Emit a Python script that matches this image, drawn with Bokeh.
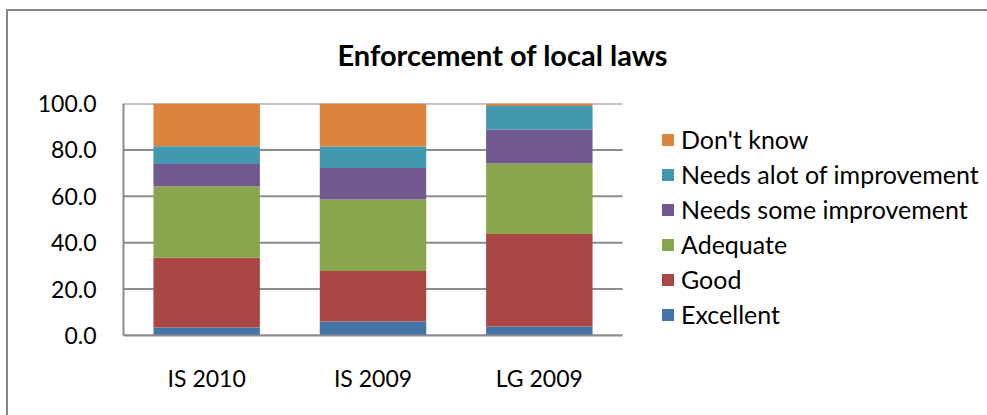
from bokeh.plotting import figure
from bokeh.models import (Range1d, Legend, LegendItem, NumeralTickFormatter, FixedTicker)
from bokeh.embed import file_html
from bokeh.resources import INLINE

categories = ["IS 2010", "IS 2009", "LG 2009"]
series = ["Excellent", "Good", "Adequate", "Needs some improvement",
          "Needs alot of improvement", "Don't know"]
excellent = [3.4, 6.0, 3.9]
good = [30.1, 21.8, 39.9]
adequate = [30.8, 30.8, 30.3]
needs_some = [9.6, 13.6, 14.7]
needs_alot = [7.7, 9.3, 10.1]
dont_know = [18.4, 18.5, 1.1]
colors = ["#4572A7", "#AA4643", "#89A54E", "#71588F", "#4198AF", "#DB843D"]
y_ticks = [0, 20, 40, 60, 80, 100]

FONT = "Lato"
GRID = "#8c8c8c"

n = len(categories)
xpos = [i + 0.5 for i in range(n)]
data = {"x": xpos, "Excellent": excellent, "Good": good, "Adequate": adequate,
        "Needs some improvement": needs_some, "Needs alot of improvement": needs_alot,
        "Don't know": dont_know}

# frame spans from x=123 to the right edge; categories occupy the first 499 px
W = 990
x_end = n * (W - 123) / 499.0
p = figure(x_range=Range1d(0, x_end), y_range=Range1d(0, 100),
           width=W, height=415, output_backend="svg", toolbar_location=None,
           min_border_left=123, min_border_right=0, min_border_top=103, min_border_bottom=80)
p.border_fill_alpha = 0
p.background_fill_color = "white"
p.outline_line_color = None

# outer chart border: only its top and left edges fall inside the window
p.styles = {
    "background": ("linear-gradient(#868686, #868686) 6px 9px / 984px 2px no-repeat, "
                   "linear-gradient(#868686, #868686) 6px 9px / 2px 406px no-repeat, white"),
}

# horizontal gridlines limited to the category area
p.segment(x0=[0] * len(y_ticks), x1=[n] * len(y_ticks), y0=y_ticks, y1=y_ticks,
          line_color=GRID, line_width=2, level="underlay")

renderers = p.vbar_stack(series, x="x", width=0.64, color=colors, source=data,
                         line_color=None)

# axes
p.yaxis.ticker = FixedTicker(ticks=y_ticks)
p.yaxis.formatter = NumeralTickFormatter(format="0.0")
p.yaxis.major_tick_line_color = None
p.yaxis.minor_tick_line_color = None
p.yaxis.axis_line_color = GRID
p.yaxis.axis_line_width = 2
p.yaxis.major_label_standoff = 21
p.yaxis.major_label_text_font = FONT
p.yaxis.major_label_text_font_size = "23px"
p.yaxis.major_label_text_color = "black"

p.xaxis.ticker = FixedTicker(ticks=xpos)
p.xaxis.major_label_overrides = {x: c for x, c in zip(xpos, categories)}
p.xaxis.bounds = (0, n)
p.xaxis.major_tick_line_color = None
p.xaxis.minor_tick_line_color = None
p.xaxis.axis_line_color = GRID
p.xaxis.axis_line_width = 2
p.xaxis.major_label_standoff = 22
p.xaxis.major_label_text_font = FONT
p.xaxis.major_label_text_font_size = "23px"
p.xaxis.major_label_text_color = "black"

p.xgrid.grid_line_color = None
p.ygrid.grid_line_color = None

# title
p.title.text = "Enforcement of local laws"
p.title.text_font = FONT
p.title.text_font_size = "29px"
p.title.text_font_style = "bold"
p.title.text_color = "black"
p.title.align = "left"
p.title.offset = 214
p.title.standoff = 64

# legend
items = [LegendItem(label=s, renderers=[r]) for s, r in zip(series, renderers)][::-1]
legend = Legend(items=items, location=(537, 6), padding=0, margin=0, spacing=5,
                glyph_width=15, glyph_height=15, label_height=15, label_standoff=6,
                label_text_font=FONT, label_text_font_size="25px", label_text_color="black",
                border_line_color=None, background_fill_alpha=0)
p.add_layout(legend, "center")

open("out.html", "w").write(file_html(p, INLINE))
